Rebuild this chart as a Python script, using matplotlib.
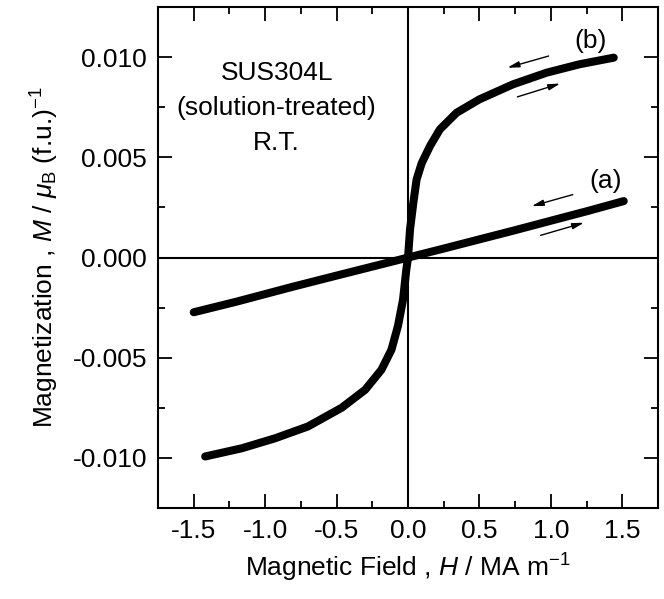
import matplotlib
matplotlib.use("Agg")
import matplotlib.pyplot as plt
from matplotlib.ticker import MultipleLocator

plt.rcParams['font.family'] = ['Liberation Sans', 'DejaVu Sans']
plt.rcParams['mathtext.fontset'] = 'custom'
plt.rcParams['mathtext.rm'] = 'Liberation Sans'
plt.rcParams['mathtext.it'] = 'Liberation Sans:italic'

# (b) solution-treated sample, M vs H
h_b = [-1.42, -1.163, -0.93, -0.70, -0.465, -0.30, -0.186, -0.116, -0.07, -0.035, -0.012, 0.0,
       0.014, 0.037, 0.06, 0.095, 0.154, 0.223, 0.34, 0.50, 0.735, 0.97, 1.20, 1.44]
m_b = [-0.00993, -0.00952, -0.00902, -0.00843, -0.0075, -0.0066, -0.0056, -0.0046, -0.0034, -0.0021, -0.0006, 0.0,
       0.0014, 0.00273, 0.0039, 0.0047, 0.00557, 0.0064, 0.00723, 0.0079, 0.00865, 0.00923, 0.00965, 0.00998]

# (a) nearly linear curve
h_a = [-1.50, -1.2, -0.814, -0.5, -0.25, 0.0, 0.25, 0.5, 0.735, 1.0, 1.25, 1.51]
m_a = [-0.00273, -0.0022, -0.00147, -0.0009, -0.00045, 0.0, 0.00045, 0.00091, 0.00134, 0.00184, 0.00231, 0.00282]

# field-sweep arrows: (x_start, y_start, x_end, y_end)
arrows = [(1.003, 0.0101, 0.677, 0.00944), (0.747, 0.00798, 1.084, 0.00873),
          (1.172, 0.00318, 0.847, 0.00253), (0.909, 0.00107, 1.251, 0.00178)]

fig = plt.figure(figsize=(6.64, 5.99), dpi=100)
ax = fig.add_axes([0.238, 0.152, 0.753, 0.836])

ax.axhline(0, color='black', lw=1.5, zorder=1)
ax.axvline(0, color='black', lw=1.5, zorder=1)

for h, m in [(h_a, m_a), (h_b, m_b)]:
    ax.plot(h, m, color='black', lw=5.8, solid_capstyle='round', solid_joinstyle='round', zorder=3)

for x0, y0, x1, y1 in arrows:
    ax.annotate('', xy=(x1, y1), xytext=(x0, y0),
                arrowprops=dict(arrowstyle='-|>,head_length=0.7,head_width=0.18', color='black', lw=1.0))

fs = 19
ax.text(1.28, 0.0108, '(b)', fontsize=fs, ha='center', va='center')
ax.text(1.38, 0.0038, '(a)', fontsize=fs, ha='center', va='center')
ax.text(-0.92, 0.0092, 'SUS304L', fontsize=fs, ha='center', va='center')
ax.text(-0.92, 0.00745, '(solution-treated)', fontsize=fs, ha='center', va='center')
ax.text(-0.92, 0.0057, 'R.T.', fontsize=fs, ha='center', va='center')

ax.set_xlim(-1.75, 1.75)
ax.set_ylim(-0.0125, 0.0125)
ax.xaxis.set_major_locator(MultipleLocator(0.5))
ax.xaxis.set_minor_locator(MultipleLocator(0.25))
ax.yaxis.set_major_locator(MultipleLocator(0.005))
ax.yaxis.set_minor_locator(MultipleLocator(0.0025))
ax.xaxis.set_major_formatter(plt.FuncFormatter(lambda v, p: f'{v:.1f}'))
ax.yaxis.set_major_formatter(plt.FuncFormatter(lambda v, p: f'{v:.3f}'))
ax.tick_params(which='both', direction='in', top=True, right=True, labelsize=fs, width=1.3)
ax.tick_params(which='major', length=10, pad=8)
ax.tick_params(which='minor', length=5)
for s in ax.spines.values():
    s.set_linewidth(1.5)

ax.set_xlabel(r'Magnetic Field , $\it{H}$ / MA m$^{-1}$', fontsize=fs, labelpad=6)
ax.set_ylabel(r'Magnetization , $\it{M}$ / $\mu_{\rm B}$ (f.u.)$^{-1}$', fontsize=fs, labelpad=8)

fig.savefig('out.png', dpi=100)
